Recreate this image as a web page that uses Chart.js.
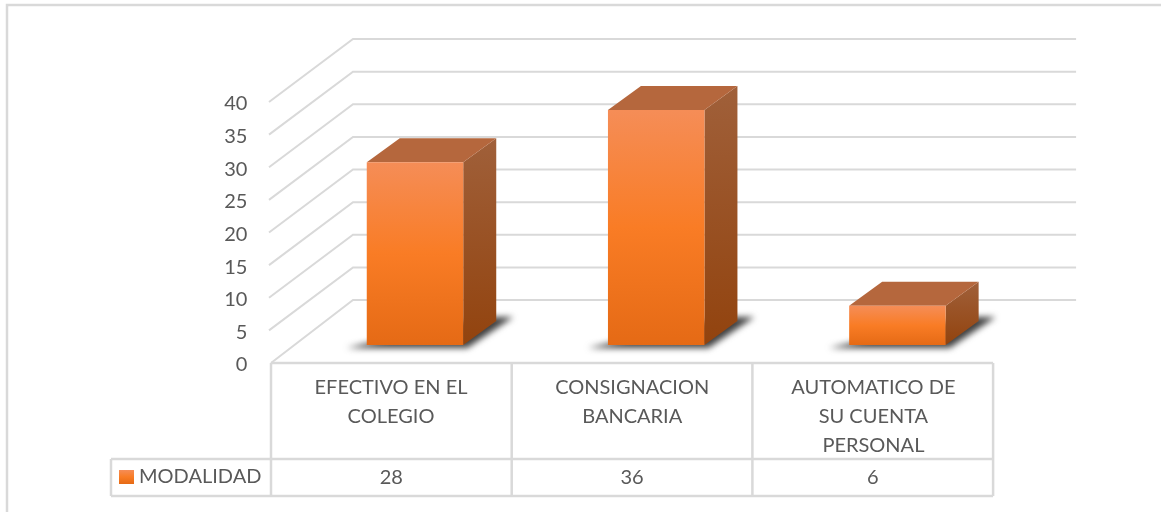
<!DOCTYPE html>
<html>
<head>
<meta charset="utf-8">
<title>Modalidad</title>
<script src="https://cdn.jsdelivr.net/npm/chart.js@4"></script>
<style>
  html, body { margin: 0; padding: 0; background: #fff; }
  #wrap { width: 1161px; height: 512px; }
</style>
</head>
<body>
<div id="wrap"><canvas id="modalidadChart" width="1161" height="512"></canvas></div>
<script>
const categories = [
    ['EFECTIVO EN EL', 'COLEGIO'],
    ['CONSIGNACION', 'BANCARIA'],
    ['AUTOMATICO DE', 'SU CUENTA', 'PERSONAL']
];
const seriesName = 'MODALIDAD';
const modalidad = [28, 36, 6];

const textColor = '#595959';
const lineColor = '#d9d9d9';
const fontFamily = 'Lato, "Open Sans", sans-serif';

// depth of the fake 3D box
const floorDx = 82, floorDy = 63;    // front of the floor to the back wall
const barDx = 33, barDy = 24;        // depth of one bar
const frontDx = 23.4, frontDy = 18;  // bar plane to the front edge of the floor
const tableStep = 240.7;             // the table columns are a bit narrower than the bar plane

function polygon(ctx, pts, fill) {
    ctx.beginPath();
    pts.forEach((p, i) => i ? ctx.lineTo(p[0], p[1]) : ctx.moveTo(p[0], p[1]));
    ctx.closePath();
    ctx.fillStyle = fill;
    ctx.fill();
}

function frontGradient(c) {
    const chart = c.chart;
    if (!chart.chartArea || c.raw === undefined) return '#f97d27';
    const top = chart.scales.y.getPixelForValue(c.raw);
    const base = chart.scales.y.getPixelForValue(0);
    const g = chart.ctx.createLinearGradient(0, top, 0, base);
    g.addColorStop(0, '#f58d57');
    g.addColorStop(0.5, '#f97c25');
    g.addColorStop(1, '#e56a15');
    return g;
}

const box3d = {
    id: 'box3d',
    beforeDatasetsDraw(chart) {
        const ctx = chart.ctx;
        const y = chart.scales.y;
        const x = chart.scales.x;
        const left = x.left - frontDx;
        const tableRight = left + tableStep * categories.length;

        // slanted lines on the side wall and the lines on the back wall
        ctx.save();
        ctx.strokeStyle = lineColor;
        ctx.lineWidth = 2;
        y.ticks.forEach(t => {
            const py = y.getPixelForValue(t.value);
            ctx.beginPath();
            ctx.moveTo(left - (t.value ? 2 : 0), py + frontDy);
            ctx.lineTo(left + floorDx, py + frontDy - floorDy);
            ctx.lineTo(tableRight + floorDx + 1, py + frontDy - floorDy);
            ctx.stroke();
        });
        ctx.restore();

        // shadows on the floor, then the side and top of each bar
        chart.getDatasetMeta(0).data.forEach(bar => {
            const x0 = bar.x - bar.width / 2;
            const x1 = bar.x + bar.width / 2;
            ctx.save();
            ctx.filter = 'blur(3px)';
            polygon(ctx, [
                [x0 - 20, bar.base + 3], [x1 + 4, bar.base + 3],
                [x1 + 50, bar.base - 28], [x1 + 20, bar.base - 28]
            ], '#404040');
            ctx.restore();

            const side = ctx.createLinearGradient(0, bar.y - barDy, 0, bar.base);
            side.addColorStop(0, '#a0603a');
            side.addColorStop(1, '#92430e');
            polygon(ctx, [
                [x1, bar.y], [x1 + barDx, bar.y - barDy],
                [x1 + barDx, bar.base - barDy], [x1, bar.base]
            ], side);
            polygon(ctx, [
                [x0, bar.y], [x0 + barDx, bar.y - barDy],
                [x1 + barDx, bar.y - barDy], [x1, bar.y]
            ], '#b5673d');
        });
    },
    afterDraw(chart) {
        const ctx = chart.ctx;
        const x = chart.scales.x;
        const y = chart.scales.y;
        const left = x.left - frontDx;
        const tableRight = left + tableStep * categories.length;
        const top = y.getPixelForValue(0) + frontDy;
        const rowY = top + 96;
        const bottom = rowY + 37;
        const legendLeft = left - 160;

        ctx.save();
        ctx.strokeStyle = lineColor;
        ctx.lineWidth = 2.5;

        // chart frame
        ctx.beginPath();
        ctx.moveTo(7, 512);
        ctx.lineTo(7, 5);
        ctx.lineTo(1161, 5);
        ctx.stroke();

        // data table
        ctx.beginPath();
        for (let i = 0; i <= categories.length; i++) {
            ctx.moveTo(left + tableStep * i, top);
            ctx.lineTo(left + tableStep * i, bottom);
        }
        ctx.moveTo(left, top);
        ctx.lineTo(tableRight, top);
        ctx.moveTo(legendLeft, rowY);
        ctx.lineTo(tableRight, rowY);
        ctx.moveTo(legendLeft, bottom);
        ctx.lineTo(tableRight, bottom);
        ctx.moveTo(legendLeft, rowY);
        ctx.lineTo(legendLeft, bottom);
        ctx.stroke();

        ctx.fillStyle = textColor;
        ctx.font = '20px ' + fontFamily;
        ctx.textBaseline = 'middle';
        ctx.textAlign = 'center';
        modalidad.forEach((v, i) => {
            ctx.fillText(String(v), left + tableStep * (i + 0.5), rowY + 19);
        });

        // legend key
        ctx.textAlign = 'left';
        ctx.fillText(seriesName, legendLeft + 28, rowY + 18);
        const key = ctx.createLinearGradient(0, rowY + 11, 0, rowY + 25);
        key.addColorStop(0, '#f58d57');
        key.addColorStop(0.5, '#f97c25');
        key.addColorStop(1, '#e56a15');
        ctx.fillStyle = key;
        ctx.fillRect(legendLeft + 8, rowY + 11, 15, 14);
        ctx.restore();
    }
};

new Chart(document.getElementById('modalidadChart'), {
    type: 'bar',
    data: {
        labels: categories,
        datasets: [{
            label: seriesName,
            data: modalidad,
            backgroundColor: frontGradient,
            barPercentage: 0.4,
            categoryPercentage: 1
        }]
    },
    options: {
        responsive: false,
        animation: false,
        layout: { padding: { left: 0, right: 143, top: 84, bottom: 0 } },
        plugins: { legend: { display: false }, tooltip: { enabled: false } },
        scales: {
            x: {
                grid: { display: false },
                border: { display: false },
                ticks: {
                    color: textColor,
                    font: { family: fontFamily, size: 20, lineHeight: 1.45 },
                    maxRotation: 0,
                    autoSkip: false,
                    padding: 20,
                    labelOffset: -frontDx - 0.6
                },
                afterFit(scale) {
                    scale.height = 167;
                    scale.paddingLeft = 0;
                    scale.paddingRight = 0;
                }
            },
            y: {
                min: 0,
                max: 40,
                grid: { display: false },
                border: { display: false },
                ticks: {
                    stepSize: 5,
                    color: textColor,
                    font: { family: fontFamily, size: 20 },
                    padding: 39,
                    labelOffset: frontDy + 2
                },
                afterFit(scale) {
                    scale.width = 294.4;
                    scale.paddingTop = 0;
                    scale.paddingBottom = 0;
                }
            }
        }
    },
    plugins: [box3d]
});
</script>
</body>
</html>
